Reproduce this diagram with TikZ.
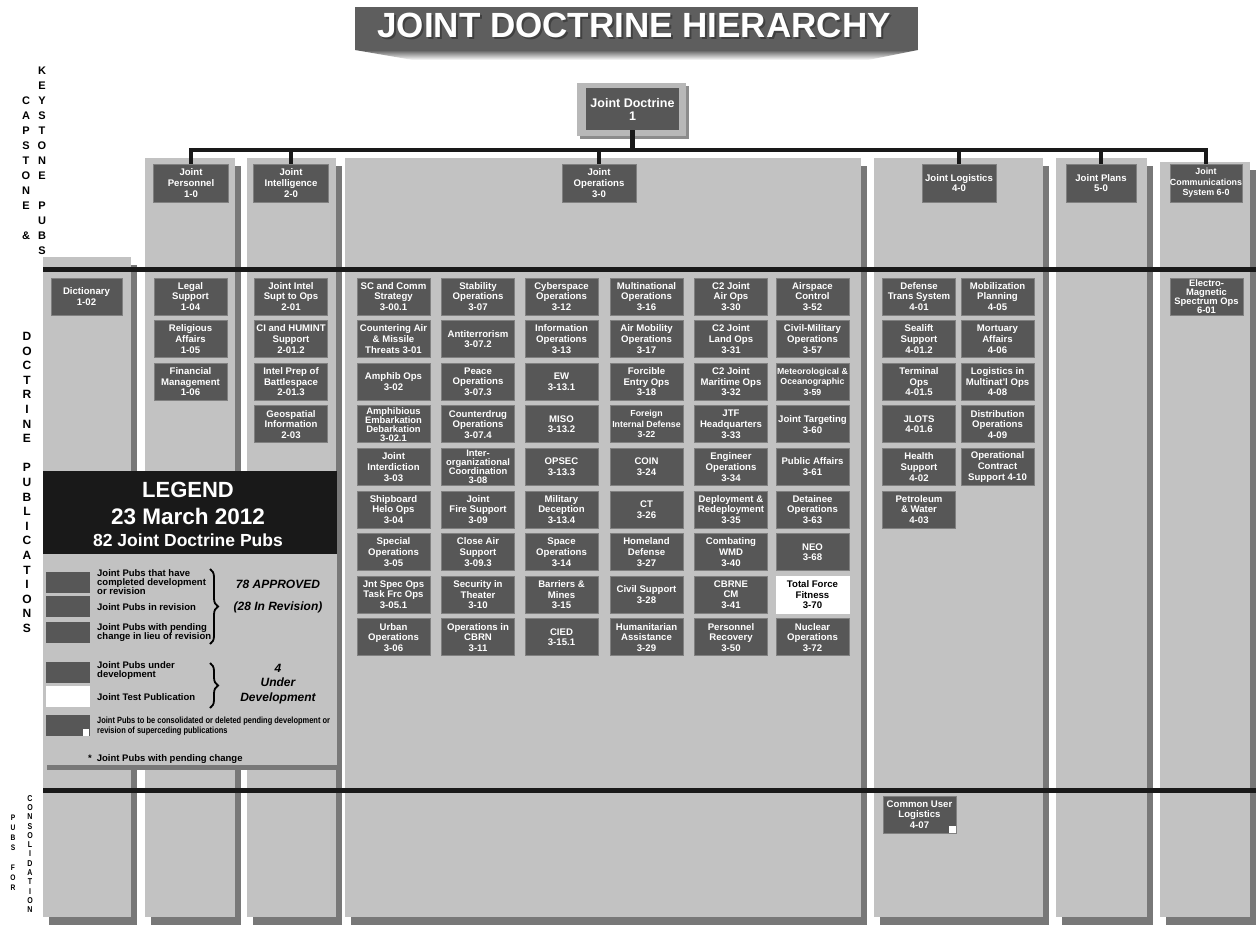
\documentclass[tikz,border=0pt]{standalone}
\usepackage{fontspec}
\setmainfont{Liberation Sans}
\newfontfamily\narrowfont[FakeStretch=0.83]{Liberation Sans}
\usepackage{tikz}
\usetikzlibrary{positioning,decorations.pathreplacing}

\definecolor{panelgray}{gray}{0.76}
\definecolor{shadowgray}{gray}{0.47}
\definecolor{boxgray}{gray}{0.34}
\definecolor{edgegray}{gray}{0.5}
\definecolor{barblack}{gray}{0.1}
\definecolor{bannergray}{gray}{0.37}
\definecolor{jdframe}{gray}{0.72}
\definecolor{jdshadow}{gray}{0.55}
\definecolor{legendblack}{gray}{0.1}

\begin{document}
\begin{tikzpicture}[x=1pt, y=-1pt,
    pub/.style={draw=edgegray, line width=0.8pt, fill=boxgray, text=white, font=\bfseries\fontsize{9.6}{10.7}\selectfont, minimum width=73pt, minimum height=37pt, inner sep=0pt, align=center},
    pubtight/.style={pub, font=\bfseries\fontsize{9.4}{9}\selectfont},
    pubsmall/.style={pub, font=\bfseries\fontsize{8.8}{10.5}\selectfont},
    testpub/.style={pub, fill=white, draw=white, text=black},
    header/.style={pub, minimum width=75pt, minimum height=38pt},
    jdbox/.style={fill=boxgray, text=white, font=\bfseries\fontsize{12.5}{13}\selectfont, minimum width=93pt, minimum height=42pt, inner sep=0pt, align=center},
    conn/.style={draw=barblack, line width=4.5pt, line join=miter},
    divider/.style={draw=barblack, line width=5pt},
    vletters/.style={font=\bfseries\fontsize{11}{15}\selectfont, align=center, inner sep=0pt, anchor=north},
    swatch/.style={fill=boxgray, minimum width=44pt, minimum height=21pt, inner sep=0pt, anchor=north west},
    legtext/.style={font=\bfseries\fontsize{9.5}{9.3}\selectfont, align=left, inner sep=0pt, anchor=west},
    legnote/.style={font=\bfseries\itshape\fontsize{12}{14.5}\selectfont, align=center, inner sep=0pt},
    legbrace/.style={decorate, decoration={brace, amplitude=8pt}, line width=1.8pt}
  ]

  \useasboundingbox (0,0) rectangle (1256,925);
  \fill[white] (0,0) rectangle (1256,925);

  % Title banner
  \shade[top color=bannergray, bottom color=white] (355,50) -- (918,50) -- (868,60) -- (413,60) -- cycle;
  \fill[bannergray] (355,7) rectangle (918,50);
  \node[font=\bfseries\fontsize{35}{35}\selectfont, text=black!75, anchor=base] (titleshadow) at (636,40) {JOINT DOCTRINE HIERARCHY};
  \node[font=\bfseries\fontsize{35}{35}\selectfont, text=white, anchor=base] (title) at (634,38) {JOINT DOCTRINE HIERARCHY};

  % Joint Doctrine 1
  \fill[jdshadow] (580,86) rectangle (689,139);
  \fill[jdframe] (577,83) rectangle (686,136);
  \node[jdbox] (jd) at (632.5,109) {Joint Doctrine\\1};

  % Columns with their shadows
  \foreach \xa/\xb/\yt in {43/131/257, 145/235/158, 247/336/158, 345/861/158, 874/1043/158, 1056/1147/158, 1160/1250/162} {
    \fill[shadowgray] ({\xa+6},{\yt+8}) rectangle ({\xb+6},925);
    \fill[panelgray] (\xa,\yt) rectangle (\xb,917);
  }

  % Dividers
  \draw[divider] (43,270) -- (1256,270);
  \draw[divider] (43,790) -- (1256,790);

  % Capstone and keystone pubs
  \node[header] (hpers) at (191,183) {Joint\\Personnel\\1-0};
  \node[header] (hintel) at (291,183) {Joint\\Intelligence\\2-0};
  \node[header, minimum width=74pt] (hops) at (599,183) {Joint\\Operations\\3-0};
  \node[header, minimum width=74pt] (hlog) at (959,183) {Joint Logistics\\4-0};
  \node[header, minimum width=70pt] (hplans) at (1101,183) {Joint Plans\\5-0};
  \node[header, minimum width=70pt, font=\bfseries\fontsize{8.9}{10.7}\selectfont] (hcomm) at (1206,183) {Joint\\Communications\\System 6-0};

  % Connectors
  \coordinate (barline) at (0,150);
  \draw[conn] (hpers.north) -- (hpers.north |- barline) -- (hcomm.north |- barline) -- (hcomm.north);
  \draw[conn] (jd.south) -- (jd.south |- barline);
  \foreach \h in {hintel, hops, hlog, hplans}
    \draw[conn] (\h.north) -- (\h.north |- barline);

  % Dictionary, personnel, intelligence
  \node[pub, minimum width=71pt] (dict) at (86.5,296.5) {Dictionary\\1-02};
  \foreach \r/\txt in {1/{Legal\\Support\\1-04}, 2/{Religious\\Affairs\\1-05}, 3/{Financial\\Management\\1-06}}
    \node[pub] (pers-\r) at (190.5,{296.5+42.6*(\r-1)}) {\txt};
  \foreach \r/\txt in {1/{Joint Intel\\Supt to Ops\\2-01}, 2/{CI and HUMINT\\Support\\2-01.2}, 3/{Intel Prep of\\Battlespace\\2-01.3}, 4/{Geospatial\\Information\\2-03}}
    \node[pub] (intel-\r) at (291,{296.5+42.6*(\r-1)}) {\txt};

  % Joint operations
  \foreach \r/\txt in {1/{SC and Comm\\Strategy\\3-00.1}, 2/{Countering Air\\\& Missile\\Threats 3-01}, 3/{Amphib Ops\\3-02}, 5/{Joint\\Interdiction\\3-03}, 6/{Shipboard\\Helo Ops\\3-04}, 7/{Special\\Operations\\3-05}, 8/{Jnt Spec Ops\\Task Frc Ops\\3-05.1}, 9/{Urban\\Operations\\3-06}}
    \node[pub] (ops-1-\r) at (393.5,{296.5+42.6*(\r-1)}) {\txt};
  \node[pubtight] (ops-1-4) at (393.5,424.3) {Amphibious\\Embarkation\\Debarkation\\3-02.1};

  \foreach \r/\txt in {1/{Stability\\Operations\\3-07}, 2/{Antiterrorism\\3-07.2}, 3/{Peace\\Operations\\3-07.3}, 4/{Counterdrug\\Operations\\3-07.4}, 6/{Joint\\Fire Support\\3-09}, 7/{Close Air\\Support\\3-09.3}, 8/{Security in\\Theater\\3-10}, 9/{Operations in\\CBRN\\3-11}}
    \node[pub] (ops-2-\r) at (478,{296.5+42.6*(\r-1)}) {\txt};
  \node[pubtight] (ops-2-5) at (478,466.9) {Inter-\\organizational\\Coordination\\3-08};

  \foreach \r/\txt in {1/{Cyberspace\\Operations\\3-12}, 2/{Information\\Operations\\3-13}, 3/{EW\\3-13.1}, 4/{MISO\\3-13.2}, 5/{OPSEC\\3-13.3}, 6/{Military\\Deception\\3-13.4}, 7/{Space\\Operations\\3-14}, 8/{Barriers \&\\Mines\\3-15}, 9/{CIED\\3-15.1}}
    \node[pub] (ops-3-\r) at (561.5,{296.5+42.6*(\r-1)}) {\txt};

  \foreach \r/\txt in {1/{Multinational\\Operations\\3-16}, 2/{Air Mobility\\Operations\\3-17}, 3/{Forcible\\Entry Ops\\3-18}, 5/{COIN\\3-24}, 6/{CT\\3-26}, 7/{Homeland\\Defense\\3-27}, 8/{Civil Support\\3-28}, 9/{Humanitarian\\Assistance\\3-29}}
    \node[pub] (ops-4-\r) at (646.5,{296.5+42.6*(\r-1)}) {\txt};
  \node[pubsmall] (ops-4-4) at (646.5,424.3) {Foreign\\Internal Defense\\3-22};

  \foreach \r/\txt in {1/{C2 Joint\\Air Ops\\3-30}, 2/{C2 Joint\\Land Ops\\3-31}, 3/{C2 Joint\\Maritime Ops\\3-32}, 4/{JTF\\Headquarters\\3-33}, 5/{Engineer\\Operations\\3-34}, 6/{Deployment \&\\Redeployment\\3-35}, 7/{Combating\\WMD\\3-40}, 8/{CBRNE\\CM\\3-41}, 9/{Personnel\\Recovery\\3-50}}
    \node[pub] (ops-5-\r) at (731,{296.5+42.6*(\r-1)}) {\txt};

  \foreach \r/\txt in {1/{Airspace\\Control\\3-52}, 2/{Civil-Military\\Operations\\3-57}, 4/{Joint Targeting\\3-60}, 5/{Public Affairs\\3-61}, 6/{Detainee\\Operations\\3-63}, 7/{NEO\\3-68}, 9/{Nuclear\\Operations\\3-72}}
    \node[pub] (ops-6-\r) at (812.5,{296.5+42.6*(\r-1)}) {\txt};
  \node[pubsmall] (ops-6-3) at (812.5,381.7) {Meteorological \&\\Oceanographic\\3-59};
  \node[testpub] (ops-6-8) at (812.5,594.7) {Total Force\\Fitness\\3-70};

  % Joint logistics
  \foreach \r/\txt in {1/{Defense\\Trans System\\4-01}, 2/{Sealift\\Support\\4-01.2}, 3/{Terminal\\Ops\\4-01.5}, 4/{JLOTS\\4-01.6}, 5/{Health\\Support\\4-02}, 6/{Petroleum\\\& Water\\4-03}}
    \node[pub] (log-1-\r) at (919,{296.5+42.6*(\r-1)}) {\txt};
  \foreach \r/\txt in {1/{Mobilization\\Planning\\4-05}, 2/{Mortuary\\Affairs\\4-06}, 3/{Logistics in\\Multinat'l Ops\\4-08}, 4/{Distribution\\Operations\\4-09}, 5/{Operational\\Contract\\Support 4-10}}
    \node[pub] (log-2-\r) at (997.5,{296.5+42.6*(\r-1)}) {\txt};

  % Communications
  \node[pubtight] (comm-1) at (1206.5,296.5) {Electro-\\Magnetic\\Spectrum Ops\\6-01};

  % Pubs for consolidation
  \node[pub] (cul) at (919.5,814.5) {Common User\\Logistics\\4-07};
  \fill[white] (cul.south east) rectangle ++(-7,-7);

  % Legend
  \fill[shadowgray] (47,476) rectangle (341,770);
  \fill[panelgray] (43,471) rectangle (337,765);
  \fill[legendblack] (43,471) rectangle (337,554);
  \node[font=\bfseries\fontsize{22}{22}\selectfont, text=white] (legword) at (188,490) {LEGEND};
  \node[font=\bfseries\fontsize{22.5}{22}\selectfont, text=white] (legdate) at (188,516) {23 March 2012};
  \node[font=\bfseries\fontsize{17.5}{18}\selectfont, text=white] (legcount) at (188,540) {82 Joint Doctrine Pubs};

  \node[swatch] (sw1) at (46,572) {};
  \node[swatch] (sw2) at (46,596) {};
  \node[swatch] (sw3) at (46,622) {};
  \node[swatch] (sw4) at (46,662) {};
  \node[swatch, fill=white] (sw5) at (46,686) {};
  \node[swatch] (sw6) at (46,715) {};
  \fill[white] (sw6.south east) ++(-1,0) rectangle ++(-6,-7);

  \node[legtext] (lt1) at (97,582) {Joint Pubs that have\\completed development\\or revision};
  \node[legtext] (lt2) at (97,607) {Joint Pubs in revision};
  \node[legtext] (lt3) at (97,632.5) {Joint Pubs with pending\\change in lieu of revision};
  \node[legtext] (lt4) at (97,670.5) {Joint Pubs under\\development};
  \node[legtext] (lt5) at (97,697) {Joint Test Publication};
  \node[legtext, font=\narrowfont\bfseries\fontsize{9}{10}\selectfont] (lt6) at (97,726) {Joint Pubs to be consolidated or deleted pending development or\\revision of superceding publications};
  \node[legtext] (lt7) at (88,759) {*\hspace{5pt}Joint Pubs with pending change};

  \draw[legbrace] (210,569) -- (210,644);
  \draw[legbrace] (210,663) -- (210,708);
  \node[legnote] (approved) at (278,584) {78 APPROVED};
  \node[legnote] (inrevision) at (278,607) {(28 In Revision)};
  \node[legnote] (underdev) at (278,684) {4\\Under\\Development};

  % Side labels
  \node[vletters] (capstone) at (26,97) {C\\A\\P\\S\\T\\O\\N\\E\\[15pt]\&};
  \node[vletters] (keystone) at (42,67) {K\\E\\Y\\S\\T\\O\\N\\E\\[15pt]P\\U\\B\\S};
  \node[vletters, font=\bfseries\fontsize{12}{14.6}\selectfont] (docpubs) at (27,332) {D\\O\\C\\T\\R\\I\\N\\E\\[14.6pt]P\\U\\B\\L\\I\\C\\A\\T\\I\\O\\N\\S};
  \node[vletters, font=\narrowfont\bfseries\fontsize{8}{10}\selectfont] (pubsfor) at (13,815) {P\\U\\B\\S\\[10pt]F\\O\\R};
  \node[vletters, font=\narrowfont\bfseries\fontsize{8.5}{9.3}\selectfont] (consol) at (30,795) {C\\O\\N\\S\\O\\L\\I\\D\\A\\T\\I\\O\\N};

\end{tikzpicture}
\end{document}
